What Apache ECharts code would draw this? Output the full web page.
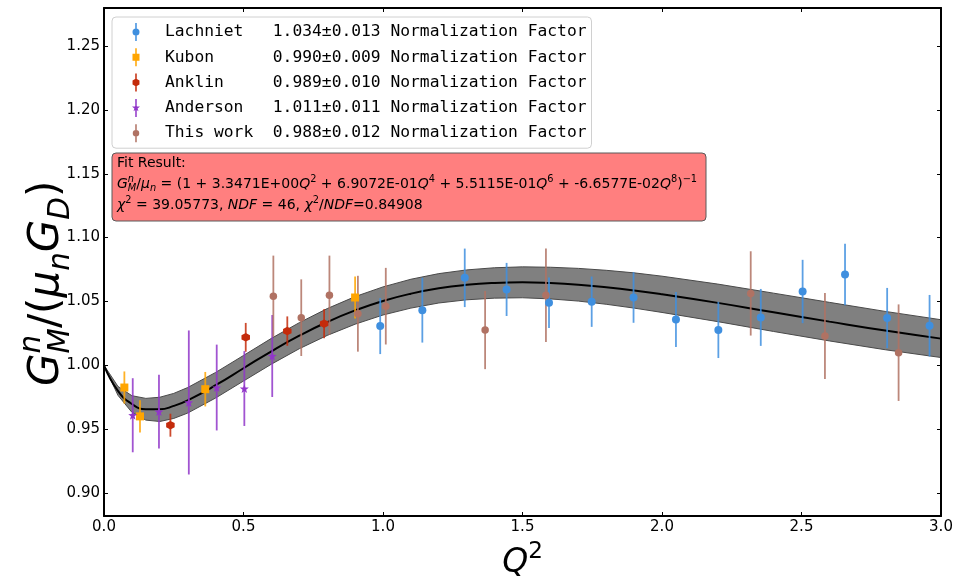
<!DOCTYPE html>
<html><head><meta charset="utf-8">
<script src="https://cdn.jsdelivr.net/npm/echarts@6/dist/echarts.min.js"></script>
<style>html,body{margin:0;padding:0;background:#fff}#c{width:973px;height:576px}</style>
</head><body><div id="c"></div>
<script>
// ---------- data ----------
const xTicks = [0, 0.5, 1.0, 1.5, 2.0, 2.5, 3.0];
const xTickLabels = ['0.0', '0.5', '1.0', '1.5', '2.0', '2.5', '3.0'];
const yTicks = [0.90, 0.95, 1.00, 1.05, 1.10, 1.15, 1.20, 1.25];
const yTickLabels = ['0.90', '0.95', '1.00', '1.05', '1.10', '1.15', '1.20', '1.25'];

const setNames = ['Lachniet', 'Kubon', 'Anklin', 'Anderson', 'This work'];
const setNorms = ['1.034±0.013', '0.990±0.009', '0.989±0.010', '1.011±0.011', '0.988±0.012'];

// [Q2, ratio, error]
const lachniet = [
  [0.990, 1.0307, 0.0219], [1.141, 1.0432, 0.0254], [1.293, 1.0685, 0.0229], [1.443, 1.0594, 0.0208],
  [1.595, 1.0490, 0.0197], [1.748, 1.0498, 0.0197], [1.898, 1.0531, 0.0198], [2.050, 1.0359, 0.0215],
  [2.202, 1.0277, 0.0220], [2.354, 1.0375, 0.0223], [2.504, 1.0578, 0.0248], [2.656, 1.0711, 0.0240],
  [2.807, 1.0370, 0.0236], [2.959, 1.0310, 0.0241]
];
const kubon = [[0.073, 0.9826, 0.0126], [0.129, 0.9600, 0.0126], [0.363, 0.9813, 0.0135], [0.900, 1.0531, 0.0164]];
const anklin = [[0.238, 0.9531, 0.0090], [0.508, 1.0219, 0.0113], [0.657, 1.0268, 0.0115], [0.789, 1.0326, 0.0114]];
const anderson = [[0.103, 0.9609, 0.0290], [0.197, 0.9638, 0.0289], [0.304, 0.9709, 0.0564],
  [0.404, 0.9826, 0.0336], [0.503, 0.9818, 0.0293], [0.603, 1.0073, 0.0321]];
const thisWork = [[0.607, 1.0541, 0.0318], [0.707, 1.0373, 0.0300], [0.808, 1.0549, 0.0310], [0.910, 1.0404, 0.0297],
  [1.010, 1.0463, 0.0300], [1.366, 1.0276, 0.0306], [1.584, 1.0549, 0.0366], [2.318, 1.0563, 0.0330],
  [2.584, 1.0229, 0.0337], [2.848, 1.0099, 0.0378]];

// fit curve and its uncertainty band
const curveQ = [0, 0.05, 0.1, 0.15, 0.2, 0.25, 0.3, 0.4, 0.5, 0.6, 0.7, 0.8, 0.9, 1.0, 1.1, 1.2, 1.3, 1.4, 1.5,
  1.6, 1.7, 1.8, 1.9, 2.0, 2.2, 2.4, 2.6, 2.8, 3.0];
const curveVal = [1.0, 0.9800, 0.9697, 0.9656, 0.9655, 0.9682, 0.9726, 0.9844, 0.9977, 1.0110, 1.0232, 1.0339,
  1.0430, 1.0504, 1.0561, 1.0603, 1.0630, 1.0645, 1.0650, 1.0644, 1.0631, 1.0611, 1.0586, 1.0556, 1.0489,
  1.0415, 1.0342, 1.0272, 1.0209];
const bandHalf = [0, 0.0035, 0.0065, 0.0085, 0.0095, 0.0098, 0.0100, 0.0100, 0.0100, 0.0101, 0.0102, 0.0105,
  0.0108, 0.0110, 0.0113, 0.0115, 0.0117, 0.0119, 0.0121, 0.0124, 0.0128, 0.0133, 0.0138, 0.0142, 0.0147,
  0.0150, 0.0151, 0.0150, 0.0148];

const fitCoeffs = ['3.3471E+00', '6.9072E-01', '5.5115E-01', '-6.6577E-02'];
const fitChi2 = '39.05773', fitNDF = '46', fitRatio = '0.84908';

// ---------- styles ----------
const colors = ['#3f8fdf', '#ffa500', '#c42b0b', '#9136c9', '#b07263'];
function starPath(cx, cy, R, r) {
  let s = '';
  for (let i = 0; i < 10; i++) {
    const a = (-90 + i * 36) * Math.PI / 180, rr = i % 2 ? r : R;
    s += (i ? 'L' : 'M') + (cx + rr * Math.cos(a)).toFixed(3) + ',' + (cy + rr * Math.sin(a)).toFixed(3);
  }
  return s + 'Z';
}
const bar = 'M3.25,0h1.5v18h-1.5z ';
const icons = [
  'path://' + bar + 'M0.5,9a3.5,3.5 0 1,1 7,0a3.5,3.5 0 1,1 -7,0z',
  'path://' + bar + 'M0.5,5.5h7v7h-7z',
  'path://' + bar + 'M4,5L7.46,7L7.46,11L4,13L0.54,11L0.54,7z',
  'path://' + bar + starPath(4, 9, 4.2, 1.7),
  'path://' + bar + 'M0.75,9a3.25,3.25 0 1,1 6.5,0a3.25,3.25 0 1,1 -6.5,0z'
];
const symbols = ['circle', 'rect', 'path://M0,-10L8.66,-5L8.66,5L0,10L-8.66,5L-8.66,-5Z',
  'path://' + starPath(0, 0, 10, 4), 'circle'];
const symSizes = [8, 8, 8.5, 9, 7.5];
const datasets = [lachniet, kubon, anklin, anderson, thisWork];
const labels = setNames.map((n, i) => n.padEnd(11) + setNorms[i] + ' Normalization Factor');

// ---------- math-like text helper ----------
const mctx = document.createElement('canvas').getContext('2d');
function fnt(size, it) { return (it ? 'italic ' : '') + size + 'px "DejaVu Sans"'; }
function mathRun(frags, x0, y0, base, z) {
  let x = x0; const els = [];
  for (const f of frags) {
    const t = f[0], sc = f[1], it = f[2], dy = f[3] || 0, noAdv = f[4];
    const size = base * sc, font = fnt(size, it);
    mctx.font = font;
    const w = mctx.measureText(t).width;
    els.push({ type: 'text', z: z || 100, silent: true,
      style: { text: t, x: x, y: y0 - dy * base - 0.35 * size, font: font, fill: '#000',
        align: 'left', verticalAlign: 'middle', textAlign: 'left', textVerticalAlign: 'middle' } });
    if (!noAdv) x += w;
  }
  return { els, width: x - x0 };
}
const SUP = 0.42, SUB = -0.22;

// y-axis title (rotated)
const yTitle = mathRun([['G', 1, true], ['n', 0.7, true, 0.45, true], ['M', 0.7, true, SUB], ['/(', 1, false],
  ['μ', 1, true], ['n', 0.7, true, SUB], ['G', 1, true], ['D', 0.7, true, SUB], [')', 1, false]], 0, 0, 42);
// x-axis title
const xBase = 33;
const xTmp = mathRun([['Q', 1, true], ['2', 0.7, false, 0.45]], 0, 0, xBase);
const xTitle = mathRun([['Q', 1, true], ['2', 0.7, false, 0.45]], 522.5 - xTmp.width / 2, 575, xBase);

// fit box text
const fb = 14, fx = 117;
const fit1 = mathRun([['Fit Result:', 1, false]], fx, 168, fb, 102);
const fitFr = [['G', 1, true], ['n', 0.7, true, SUP, true], ['M', 0.7, true, SUB], ['/', 1, false], ['μ', 1, true],
  ['n', 0.7, true, SUB], [' = (1 + ' + fitCoeffs[0], 1, false]];
const powers = ['2', '4', '6', '8'];
for (let i = 0; i < 4; i++) {
  if (i > 0) fitFr.push([' + ' + fitCoeffs[i], 1, false]);
  fitFr.push(['Q', 1, true]); fitFr.push([powers[i], 0.7, false, SUP]);
}
fitFr.push([')', 1, false]); fitFr.push(['−1', 0.7, false, SUP]);
const fit2 = mathRun(fitFr, fx, 189, fb, 102);
const fit3 = mathRun([['χ', 1, true], ['2', 0.7, false, SUP], [' = ' + fitChi2 + ', ', 1, false], ['NDF', 1, true],
  [' = ' + fitNDF + ', ', 1, false], ['χ', 1, true], ['2', 0.7, false, SUP], ['/', 1, false], ['NDF', 1, true],
  ['=' + fitRatio, 1, false]], fx, 210, fb, 102);

// ---------- chart ----------
function errRender(color) {
  return function (params, api) {
    const x = api.value(0), y = api.value(1), e = api.value(2);
    const a = api.coord([x, y - e]), b = api.coord([x, y + e]);
    return { type: 'line', shape: { x1: a[0], y1: a[1], x2: b[0], y2: b[1] },
      style: { stroke: color, lineWidth: 1.8, opacity: 0.85 } };
  };
}
function bandRender(params, api) {
  const up = curveQ.map((q, i) => api.coord([q, curveVal[i] + bandHalf[i]]));
  const lo = curveQ.map((q, i) => api.coord([q, curveVal[i] - bandHalf[i]]));
  return { type: 'group', children: [
    { type: 'polygon', shape: { points: up.concat(lo.slice().reverse()) }, style: { fill: '#808080' } },
    { type: 'polyline', shape: { points: up }, style: { stroke: '#4a4a4a', lineWidth: 1, fill: null } },
    { type: 'polyline', shape: { points: lo }, style: { stroke: '#4a4a4a', lineWidth: 1, fill: null } }
  ] };
}
const lblIdx = (arr, v) => arr.findIndex(t => Math.abs(t - v) < 1e-6);
const axisCommon = {
  axisLine: { show: true, onZero: false, lineStyle: { color: '#000', width: 2 } },
  splitLine: { show: false }, z: 10
};
const series = [];
datasets.forEach((ds, i) => {
  series.push({ type: 'scatter', name: labels[i], data: ds.map(d => [d[0], d[1]]), symbol: symbols[i],
    symbolSize: symSizes[i], itemStyle: { color: colors[i], opacity: 1 }, z: 6, silent: true });
});
datasets.forEach((ds, i) => {
  series.push({ type: 'custom', data: ds, renderItem: errRender(colors[i]), encode: { x: 0, y: 1 }, z: 5, silent: true });
});
series.push({ type: 'custom', data: [[1.5, 1.0]], encode: { x: 0, y: 1 }, renderItem: bandRender, z: 2, silent: true });
series.push({ type: 'line', data: curveQ.map((q, i) => [q, curveVal[i]]), smooth: true, symbol: 'none',
  lineStyle: { color: '#000', width: 2 }, z: 3, silent: true });

const chart = echarts.init(document.getElementById('c'), null, { renderer: 'canvas' });
chart.setOption({
  animation: false,
  backgroundColor: '#fff',
  grid: { left: 104, right: 32, top: 8, bottom: 60, containLabel: false },
  xAxis: [
    Object.assign({ type: 'value', min: 0, max: 3, position: 'bottom',
      axisTick: { inside: true, length: 4, customValues: xTicks, lineStyle: { color: '#000', width: 1 } },
      axisLabel: { customValues: xTicks, formatter: v => xTickLabels[lblIdx(xTicks, v)], color: '#000',
        fontSize: 15, fontFamily: 'DejaVu Sans', margin: 4 } }, axisCommon),
    Object.assign({ type: 'value', min: 0, max: 3, position: 'top',
      axisTick: { inside: true, length: 4, customValues: xTicks, lineStyle: { color: '#000', width: 1 } },
      axisLabel: { show: false } }, axisCommon)
  ],
  yAxis: [
    Object.assign({ type: 'value', min: 0.882, max: 1.2798, position: 'left',
      axisTick: { inside: true, length: 4, customValues: yTicks, lineStyle: { color: '#000', width: 1 } },
      axisLabel: { customValues: yTicks, formatter: v => yTickLabels[lblIdx(yTicks, v)], color: '#000',
        fontSize: 15, fontFamily: 'DejaVu Sans', margin: 4 } }, axisCommon),
    Object.assign({ type: 'value', min: 0.882, max: 1.2798, position: 'right',
      axisTick: { inside: true, length: 4, customValues: yTicks, lineStyle: { color: '#000', width: 1 } },
      axisLabel: { show: false } }, axisCommon)
  ],
  legend: {
    orient: 'vertical', left: 112, top: 17, padding: [6, 5, 6, 20], itemWidth: 48, itemHeight: 18, itemGap: 7.3,
    selectedMode: false, backgroundColor: 'rgba(255,255,255,0.85)', borderColor: '#d0d0d0', borderWidth: 1,
    borderRadius: 4, data: labels.map((l, i) => ({ name: l, icon: icons[i] })),
    textStyle: { fontFamily: '"DejaVu Sans Mono"', fontSize: 16.3, color: '#000', lineHeight: 18 }
  },
  series: series,
  graphic: [
    { type: 'group', x: 62, y: 386, rotation: Math.PI / 2, children: yTitle.els },
    { type: 'group', children: xTitle.els },
    { type: 'rect', z: 101, silent: true, shape: { x: 112, y: 153, width: 594, height: 68, r: 4 },
      style: { fill: '#ff7f7f', stroke: '#5a5a5a', lineWidth: 1 } },
    { type: 'group', children: fit1.els.concat(fit2.els, fit3.els) }
  ]
});
</script></body></html>
